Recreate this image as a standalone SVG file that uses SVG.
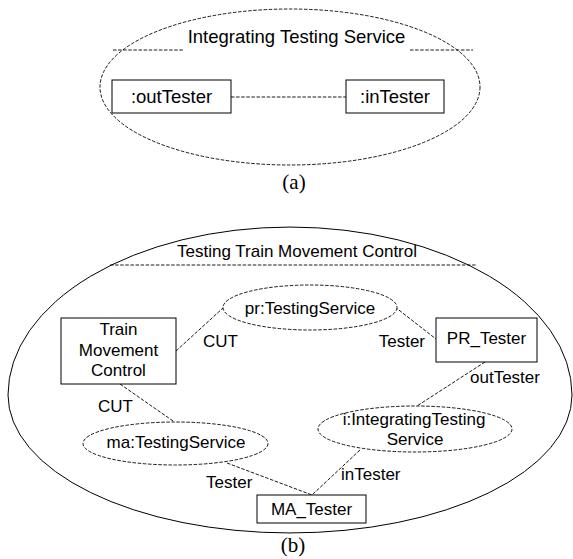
<svg xmlns="http://www.w3.org/2000/svg" width="573" height="559" viewBox="0 0 573 559">
<style>
.bg{fill:#fff}
.box{fill:#fff;stroke:#000;stroke-width:1}
.dash{fill:none;stroke:#000;stroke-width:0.9;stroke-dasharray:3.5 1.6}
.dell{fill:#fff;stroke:#000;stroke-width:0.9;stroke-dasharray:3.5 1.6}
.solid{fill:none;stroke:#000;stroke-width:1}
.t{font-family:"Liberation Sans",Arial,sans-serif;font-size:17px;fill:#000;text-anchor:middle}
.ta{font-family:"Liberation Sans",Arial,sans-serif;font-size:18.5px;fill:#000;text-anchor:middle}
.ts{font-family:"Liberation Sans",Arial,sans-serif;font-size:17px;fill:#000}
.cap{font-family:"Liberation Serif","Times New Roman",serif;font-size:21px;fill:#000;text-anchor:middle}
</style>
<rect class="bg" x="0" y="0" width="573" height="559"/>

<!-- (a) -->
<g id="integrating-testing-service">
<ellipse class="dash" cx="290" cy="87" rx="190" ry="78"/>
<text class="ta" x="296.5" y="43">Integrating Testing Service</text>
<line class="dash" x1="113" y1="50" x2="183" y2="50"/>
<line class="dash" x1="410" y1="50" x2="473" y2="50"/>
</g>
<g id="a-connectors">
<line class="dash" x1="231" y1="97" x2="346" y2="97"/>
</g>
<g id="outTester">
<rect class="box" x="112" y="80" width="119" height="33"/>
<text class="ta" x="171.5" y="103">:outTester</text>
</g>
<g id="inTester">
<rect class="box" x="346" y="80" width="98" height="33"/>
<text class="ta" x="395" y="103">:inTester</text>
</g>
<text class="cap" x="294" y="189">(a)</text>

<!-- (b) -->
<g id="testing-train-movement-control">
<path class="solid" d="M 8,395 A 282,168 0 0 1 572,395 A 282,138 0 0 1 8,395 Z"/>
<text class="t" x="297" y="257">Testing Train Movement Control</text>
<line class="dash" x1="110" y1="265" x2="477" y2="265"/>
</g>

<g id="b-connectors">
<line class="dash" x1="176" y1="351" x2="223" y2="308"/>
<line class="dash" x1="395" y1="307" x2="436" y2="339"/>
<line class="dash" x1="120" y1="384" x2="173" y2="421"/>
<line class="dash" x1="485" y1="362" x2="417" y2="406"/>
<line class="dash" x1="227" y1="463" x2="312" y2="495"/>
<line class="dash" x1="360" y1="450" x2="312" y2="495"/>
<text class="ts" x="203" y="347">CUT</text>
<text class="ts" x="425" y="347" text-anchor="end">Tester</text>
<text class="ts" x="98" y="412">CUT</text>
<text class="ts" x="470" y="383">outTester</text>
<text class="ts" x="206" y="488">Tester</text>
<text class="ts" x="341" y="480">inTester</text>
</g>

<g id="pr-testing-service">
<ellipse class="dell" cx="310" cy="307.5" rx="87" ry="22.5"/>
<text class="t" x="310" y="314">pr:TestingService</text>
</g>
<g id="train-movement-control">
<rect class="box" x="61" y="318" width="115" height="66"/>
<text class="t" x="118.5" y="335">Train</text>
<text class="t" x="118.5" y="356">Movement</text>
<text class="t" x="118.5" y="376">Control</text>
</g>
<g id="pr-tester">
<rect class="box" x="436" y="318" width="101" height="44"/>
<text class="t" x="486.5" y="344">PR_Tester</text>
</g>
<g id="ma-testing-service">
<ellipse class="dell" cx="175.5" cy="443.5" rx="92.5" ry="21.5"/>
<text class="t" x="176" y="448">ma:TestingService</text>
</g>
<g id="i-integrating-testing-service">
<ellipse class="dell" cx="415" cy="429" rx="97" ry="23"/>
<text class="t" x="414" y="425">i:IntegratingTesting</text>
<text class="t" x="415" y="445">Service</text>
</g>
<g id="ma-tester">
<rect class="box" x="257" y="495" width="109" height="28"/>
<text class="t" x="311.5" y="515">MA_Tester</text>
</g>
<text class="cap" x="293" y="552">(b)</text>
</svg>
